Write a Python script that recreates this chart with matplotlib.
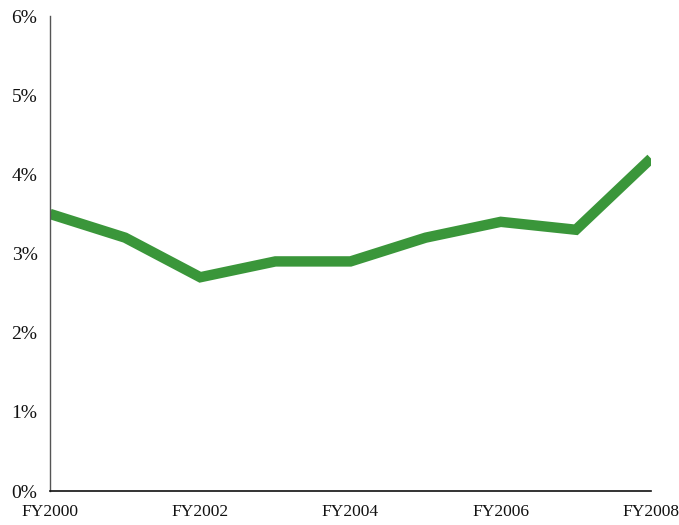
import matplotlib.pyplot as plt
import matplotlib as mpl
from matplotlib.ticker import FuncFormatter

mpl.rcParams['font.family'] = ['Liberation Serif', 'DejaVu Serif']
mpl.rcParams['font.size'] = 12

years = ['FY2000', 'FY2001', 'FY2002', 'FY2003', 'FY2004',
         'FY2005', 'FY2006', 'FY2007', 'FY2008']
rates = [3.5, 3.2, 2.7, 2.9, 2.9, 3.2, 3.4, 3.3, 4.2]
tick_labels = ['FY2000', 'FY2002', 'FY2004', 'FY2006', 'FY2008']

fig = plt.figure(figsize=(6.79, 5.25), dpi=100)
ax = fig.add_axes([50 / 679, 1 - 491 / 525, 601 / 679, 475 / 525])

xs = list(range(len(years)))
ax.plot(xs, rates, color='#3a963a', linewidth=7.5,
        solid_joinstyle='miter', solid_capstyle='butt')

ax.set_xlim(0, 8)
ax.set_ylim(0, 6)
ax.set_xticks(xs[::2])
ax.set_xticklabels(tick_labels)
ax.set_yticks(range(0, 7))
ax.yaxis.set_major_formatter(FuncFormatter(lambda v, p: '%d%%' % v))
ax.tick_params(length=0, colors='#111111')
ax.tick_params(axis='x', pad=9, labelsize=12.5)
ax.tick_params(axis='y', pad=9, labelsize=14)

for s in ['top', 'right']:
    ax.spines[s].set_visible(False)
ax.spines['left'].set_color('#555555')
ax.spines['bottom'].set_color('#111111')
ax.spines['left'].set_linewidth(1.0)
ax.spines['bottom'].set_linewidth(1.2)

fig.savefig('out.png', dpi=100)
